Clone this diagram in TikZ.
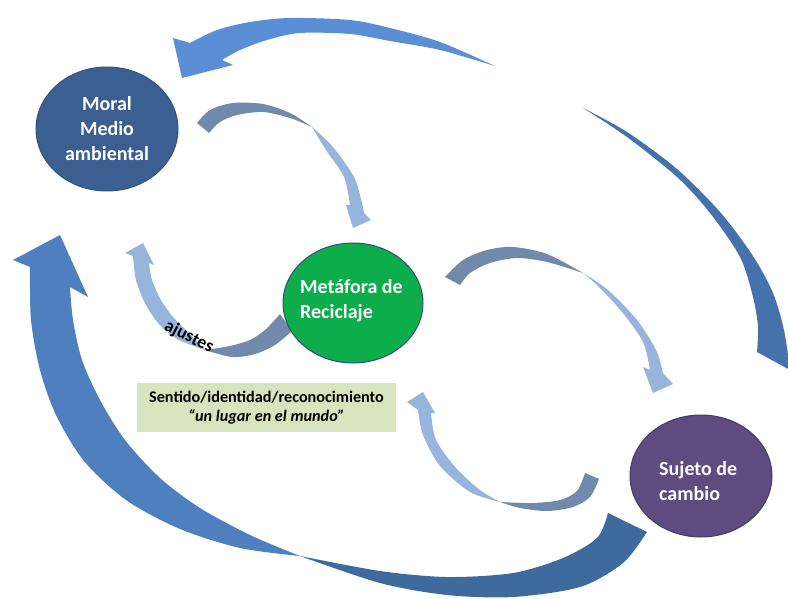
\documentclass[tikz,border=0pt]{standalone}
\usepackage{fontspec}
\setmainfont{Carlito}
\usetikzlibrary{shapes.geometric}
\definecolor{moralc}{HTML}{3C5F91}
\definecolor{moralb}{HTML}{34527E}
\definecolor{metac}{HTML}{0DAD4B}
\definecolor{metab}{HTML}{2F4F80}
\definecolor{sujc}{HTML}{5E4B7F}
\definecolor{sujb}{HTML}{3E3D6B}
\definecolor{topc}{HTML}{5A8FD5}
\definecolor{rightc}{HTML}{4672AC}
\definecolor{botc}{HTML}{3F6A9E}
\definecolor{botlc}{HTML}{4E80BF}
\definecolor{darkc}{HTML}{7189AB}
\definecolor{lightc}{HTML}{97B5DC}
\definecolor{boxc}{HTML}{D7E4BD}
\tikzset{
  blob/.style={ellipse, draw, line width=1pt, inner sep=0pt},
  whitetxt/.style={text=white, font=\fontsize{20}{25}\selectfont\bfseries},
}
\begin{document}
\begin{tikzpicture}[x=1pt,y=-1pt]
\useasboundingbox (0,0) rectangle (788,599);
\begin{scope}
\clip (0,0) rectangle (788,599);
% top outer arrow
\fill[topc] plot[smooth] coordinates {(190,43) (217,30) (250,22) (290,18) (350,20) (390,28) (440,42) (495,66)}
  -- plot[smooth] coordinates {(495,66) (440,50) (390,41) (350,34) (300,33) (267,40) (240,50) (222,60)}
  -- (233,65) -- (182,78) -- (173,38) -- cycle;
% right outer band
\fill[rightc] plot[smooth] coordinates {(583,108) (627,132) (677,169) (720,212) (753,256) (773,293) (784,330) (790,370)}
  -- (757,352) -- plot[smooth] coordinates {(757,352) (758,327) (753,297) (740,257) (710,213) (677,177) (627,137) (583,108)} -- cycle;
% bottom outer arrow, tail part
\fill[botc] plot[smooth] coordinates {(608,513) (597,538) (563,558) (513,573) (447,577) (380,571) (300,556)}
  -- plot[smooth] coordinates {(300,556) (380,583) (447,595) (513,597) (580,587) (623,563) (647,532)} -- cycle;
% bottom outer arrow, head part
\fill[botlc] plot[smooth] coordinates {(300,556) (250,535) (200,508) (160,478) (125,440) (100,400) (82,360) (73,320) (70,287)}
  -- (88,297) -- (60,235) -- (13,260) -- (30,267)
  -- plot[smooth] coordinates {(30,267) (31,320) (40,370) (56,415) (84,461) (126,500) (180,529) (240,548) (300,556)} -- cycle;
\end{scope}
% inner arrow Moral -> Metafora
\fill[darkc] plot[smooth] coordinates {(197,123) (210,110) (233,103) (263,104) (290,113) (312,127)}
  -- plot[smooth] coordinates {(312,127) (290,118) (263,112) (237,115) (220,122) (209,133)} -- cycle;
\fill[lightc] plot[smooth] coordinates {(312,127) (333,147) (354,177) (362,203) (364,213)}
  -- (371,220) -- (353,228) -- (346,205) -- (350,205)
  -- plot[smooth] coordinates {(350,205) (344,177) (326,150) (312,127)} -- cycle;
% inner arrow Metafora -> Sujeto
\fill[darkc] plot[smooth] coordinates {(445,277) (463,260) (487,250) (513,247) (547,254) (583,273)}
  -- plot[smooth] coordinates {(583,273) (547,262) (517,258) (490,263) (470,273) (460,285)} -- cycle;
\fill[lightc] plot[smooth] coordinates {(583,273) (608,290) (637,320) (656,350) (663,373)}
  -- (673,384) -- (653,393) -- (643,367) -- (650,370)
  -- plot[smooth] coordinates {(650,370) (643,342) (622,312) (598,286) (583,273)} -- cycle;
% inner arrow Sujeto -> Metafora
\fill[darkc] plot[smooth] coordinates {(599,479) (590,497) (573,507) (547,511) (520,508) (500,502)}
  -- plot[smooth] coordinates {(500,502) (533,503) (560,500) (577,491) (585,473)} -- cycle;
\fill[lightc] plot[smooth] coordinates {(500,502) (470,492) (440,466) (423,435) (418,410)}
  -- (407,402) -- (423,392) -- (435,413) -- (431,413)
  -- plot[smooth] coordinates {(431,413) (436,440) (456,468) (480,490) (500,502)} -- cycle;
% inner arrow Metafora -> Moral (ajustes)
\fill[darkc] plot[smooth] coordinates {(280,314) (265,330) (250,340) (230,346) (205,350)}
  -- plot[smooth] coordinates {(205,350) (232,357) (255,354) (275,345) (292,331)} -- cycle;
\fill[lightc] plot[smooth] coordinates {(205,350) (187,331) (173,317) (161,300) (152,280) (149,263)}
  -- (154,265) -- (143,243) -- (125,253) -- (133,256)
  -- plot[smooth] coordinates {(133,256) (136,280) (145,303) (158,323) (177,339) (205,350)} -- cycle;
% nodes
\node[blob, fill=moralc, draw=moralb, minimum width=142, minimum height=124] (moral) at (107,129) {};
\node[whitetxt, align=center] (moraltxt) at (moral.center) {Moral\\Medio\\ambiental};
\node[blob, fill=metac, draw=metab, minimum width=140, minimum height=120] (meta) at (353,303) {};
\node[whitetxt, align=left, anchor=north west, inner sep=0pt] (metatxt) at (300,279) {Metáfora de\\Reciclaje};
\node[blob, fill=sujc, draw=sujb, minimum width=142, minimum height=122] (suj) at (701,476) {};
\node[whitetxt, align=left, anchor=north west, inner sep=0pt] (sujtxt) at (659,461) {Sujeto de\\cambio};
\node[fill=boxc, minimum width=259, minimum height=49, inner sep=0pt] (box) at (266.5,407.5) {};
\node[align=center, font=\fontsize{16.2}{19}\selectfont\bfseries] (boxtxt) at (box.center) {Sentido/identidad/reconocimiento\\\itshape “un lugar en el mundo”};
\node[rotate=-27, font=\fontsize{18}{20}\selectfont\bfseries] (ajustes) at (189,337) {ajustes};
\end{tikzpicture}
\end{document}
